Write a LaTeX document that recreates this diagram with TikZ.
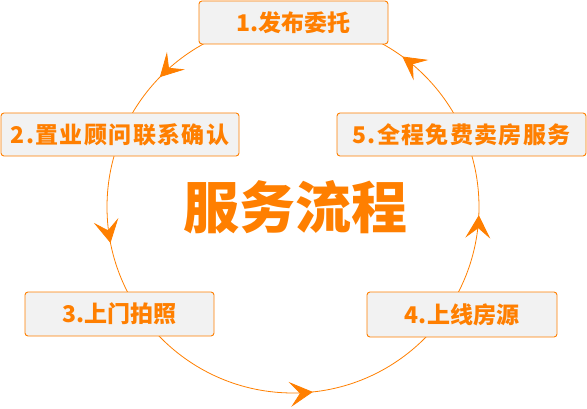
\documentclass[tikz,border=0pt]{standalone}
\usepackage{fontspec}
\newfontfamily\cjk{Noto Sans CJK SC}
\usetikzlibrary{arrows.meta,decorations.markings}
\definecolor{flowor}{HTML}{FF7F00}
\definecolor{boxgray}{HTML}{F2F2F2}
\tikzset{
  flowtip/.tip={Stealth[length=23pt,width=25pt,inset=10pt]},
  stepbox/.style={draw=flowor, fill=boxgray, rounded corners=3pt,
    line width=0.9pt, minimum height=43pt, inner sep=0pt, text=flowor,
    font=\cjk\bfseries\fontsize{23}{23}\selectfont},
  widetext/.style={font=\cjk\bfseries\fontsize{23}{23}\selectfont\addfontfeature{LetterSpace=6}},
  cycleline/.style={draw=flowor, color=flowor, line width=0.8pt,
    postaction={decorate}, decoration={markings,
      mark=at position 0.127 with {\arrow{flowtip}},
      mark=at position 0.281 with {\arrow{flowtip}},
      mark=at position 0.517 with {\arrow{flowtip}},
      mark=at position 0.743 with {\arrow{flowtip}},
      mark=at position 0.9 with {\arrow{flowtip}}}}
}
\begin{document}
\begin{tikzpicture}[x=1pt, y=1pt]
  \useasboundingbox (0,0) rectangle (587,408);
  \coordinate (c) at (293,201);
  % the cycle
  \draw[cycleline] (c) ++(90:186) arc[start angle=90, end angle=450, radius=186];
  % steps
  \node[stepbox, minimum width=189pt] (s1) at (293.5,385.5) {1.发布委托};
  \node[stepbox, widetext, minimum width=238pt] (s2) at (120,273.5) {2.置业顾问联系确认};
  \node[stepbox, minimum width=189pt, minimum height=44pt] (s3) at (119.5,94) {3.上门拍照};
  \node[stepbox, minimum width=190pt, minimum height=45pt] (s4) at (462,93.5) {4.上线房源};
  \node[stepbox, widetext, minimum width=249pt] (s5) at (461.5,273.5) {5.全程免费卖房服务};
  \node[text=flowor, font=\cjk\bfseries\fontsize{56}{56}\selectfont] (title) at (295,201) {服务流程};
\end{tikzpicture}
\end{document}
